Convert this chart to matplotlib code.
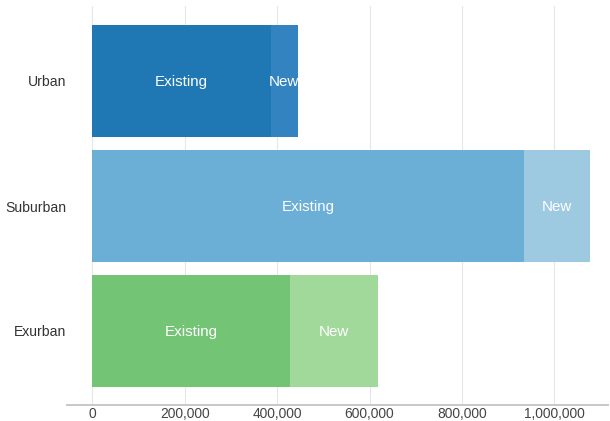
import matplotlib
matplotlib.use("Agg")
import matplotlib.pyplot as plt
from matplotlib.ticker import FuncFormatter, FixedLocator

plt.rcParams['font.family'] = ['Liberation Sans', 'DejaVu Sans']

categories = ["Urban", "Suburban", "Exurban"]
existing = [386000, 934000, 428000]
new = [59000, 143000, 191000]
existing_colors = ["#1f77b4", "#6baed6", "#74c476"]
new_colors = ["#3483c1", "#9ecae1", "#a1d99b"]
segment_labels = ["Existing", "New"]
xticks = [0, 200000, 400000, 600000, 800000, 1000000]

W, H = 610, 421
fig = plt.figure(figsize=(W / 100, H / 100), dpi=100)
ax = fig.add_axes([67.3 / W, (H - 405) / H, (608 - 67.3) / W, 399 / H])

ypos = list(range(len(categories)))
bar_h = 0.9

# gridlines
for t in xticks:
    ax.axvline(t, color="#e6e6e6", linewidth=0.8, zorder=0)

bars_e = ax.barh(ypos, existing, height=bar_h, color=existing_colors, zorder=2, linewidth=0)
bars_n = ax.barh(ypos, new, left=existing, height=bar_h, color=new_colors, zorder=2, linewidth=0)

for bars, lab in ((bars_e, segment_labels[0]), (bars_n, segment_labels[1])):
    for b in bars:
        cx = b.get_x() + b.get_width() / 2
        cy = b.get_y() + b.get_height() / 2
        t = ax.text(cx, cy + 0.008, lab, color="white", fontsize=10.9, ha="center", va="center", zorder=3)
        t.set_clip_path(b)

ax.set_ylim(2.592, -0.6)
ax.set_xlim(-54100, 1116000)

ax.xaxis.set_major_locator(FixedLocator(xticks))
ax.xaxis.set_major_formatter(FuncFormatter(lambda v, p: f"{int(v):,}"))
ax.set_yticks(ypos)
ax.set_yticklabels(categories)

for s in ["top", "right", "left"]:
    ax.spines[s].set_visible(False)
ax.spines["bottom"].set_color("#c8c8c8")
ax.spines["bottom"].set_linewidth(1.4)

ax.tick_params(axis="x", length=0, pad=1.8, labelsize=9.9, labelcolor="#444444")
ax.tick_params(axis="y", length=0, pad=0.9, labelsize=10.1, labelcolor="#333333")

fig.savefig("out.png", dpi=100)
